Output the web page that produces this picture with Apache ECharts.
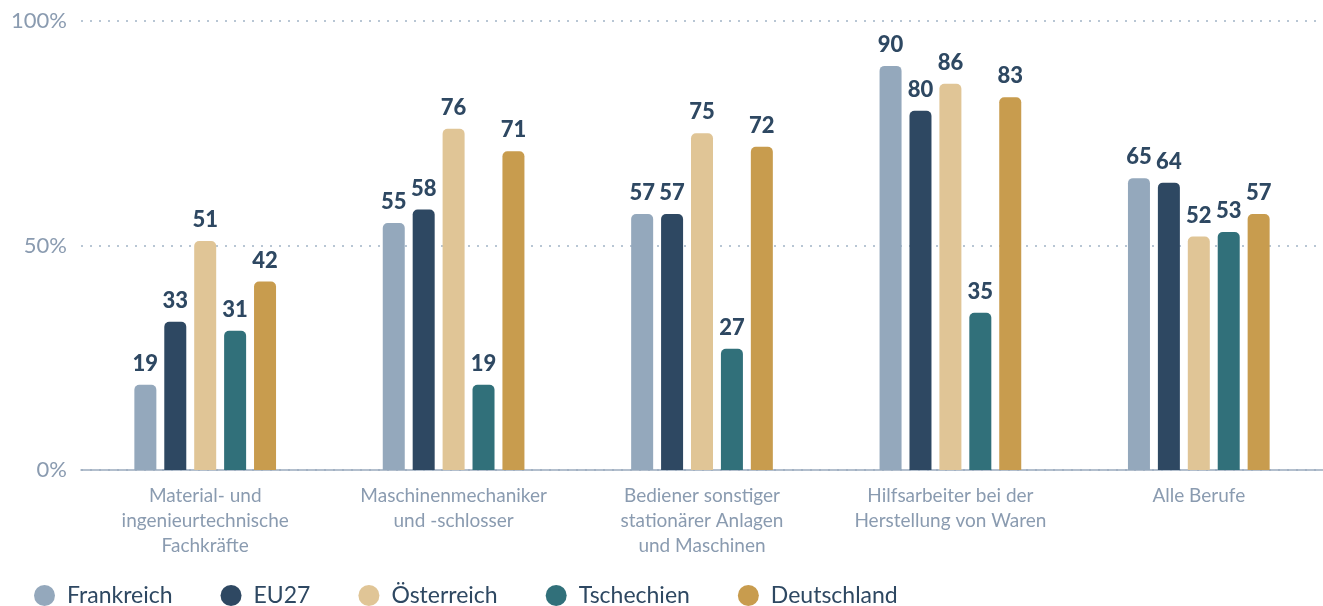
<!DOCTYPE html>
<html><head><meta charset="utf-8">
<script src="https://cdn.jsdelivr.net/npm/echarts@6/dist/echarts.min.js"></script>
<style>html,body{margin:0;padding:0;background:#fff}#c{width:1323px;height:606px}</style>
</head><body><div id="c"></div>
<script>
const categories = [
  "Material- und\ningenieurtechnische\nFachkräfte",
  "Maschinenmechaniker\nund -schlosser",
  "Bediener sonstiger\nstationärer Anlagen\nund Maschinen",
  "Hilfsarbeiter bei der\nHerstellung von Waren",
  "Alle Berufe"
];
const seriesNames = ["Frankreich", "EU27", "Österreich", "Tschechien", "Deutschland"];
const frankreich = [19, 55, 57, 90, 65];
const eu27 = [33, 58, 57, 80, 64];
const oesterreich = [51, 76, 75, 86, 52];
const tschechien = [31, 19, 27, 35, 53];
const deutschland = [42, 71, 72, 83, 57];
const yTicks = [0, 50, 100];
const colors = ["#94a8bc", "#2e4862", "#e0c596", "#31707a", "#c89c4e"];
const values = [frankreich, eu27, oesterreich, tschechien, deutschland];
const FONT = "Lato, 'Source Sans Pro', sans-serif";

const chart = echarts.init(document.getElementById('c'), null, {renderer: 'canvas'});
chart.setOption({
  animation: false,
  color: colors,
  grid: {left: 81, right: 0, top: 21, bottom: 136},
  legend: {
    left: 29, top: 579,
    icon: 'circle', itemWidth: 21, itemHeight: 21, itemGap: 48,
    textStyle: {fontFamily: FONT, fontSize: 23, color: '#2e4862', padding: [0, 0, 0, 7]},
    data: seriesNames
  },
  xAxis: {
    type: 'category', data: categories,
    axisLine: {lineStyle: {color: '#9aabbd', width: 1.5}},
    axisTick: {show: false},
    axisLabel: {fontFamily: FONT, fontSize: 19, color: '#8a9bb0', lineHeight: 25, margin: 13, interval: 0}
  },
  yAxis: {
    type: 'value', min: 0, max: 100, interval: 50,
    axisLine: {show: false}, axisTick: {show: false},
    axisLabel: {fontFamily: FONT, fontSize: 22, color: '#8a9bb0', margin: 14,
      formatter: v => yTicks.includes(v) ? v + '%' : ''},
    splitLine: {lineStyle: {color: '#b8c6d4', type: [2, 7], width: 2}}
  },
  series: seriesNames.map((n, i) => ({
    name: n, type: 'bar', data: values[i], barWidth: 22, barGap: '36%',
    itemStyle: {color: colors[i], borderRadius: [5, 5, 0, 0]},
    label: {show: true, position: 'top', distance: 10, fontFamily: FONT, fontWeight: 900,
      fontSize: 22, color: '#2e4862', textBorderColor: '#fff', textBorderWidth: 4}
  }))
});
</script></body></html>
